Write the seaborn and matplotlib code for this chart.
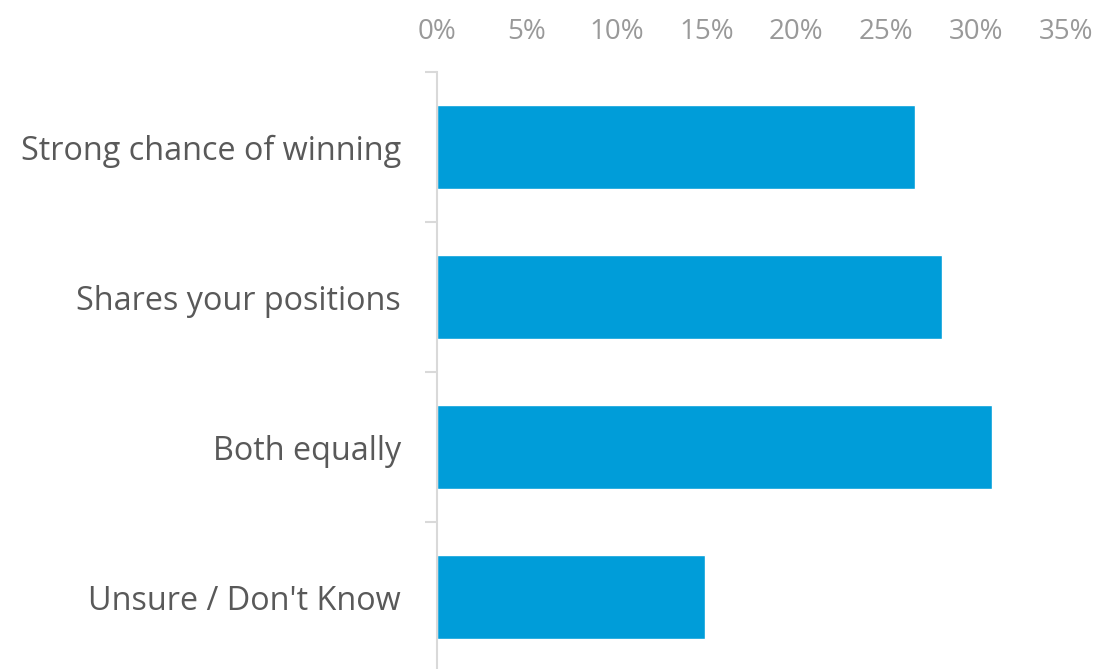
import matplotlib
matplotlib.use("Agg")
import matplotlib.pyplot as plt
import seaborn as sns
import pandas as pd
from matplotlib.ticker import FuncFormatter

categories = ["Strong chance of winning", "Shares your positions", "Both equally", "Unsure / Don't Know"]
values = [26.6, 28.1, 30.9, 14.9]
tick_vals = [0, 5, 10, 15, 20, 25, 30, 35]

df = pd.DataFrame({"answer": categories, "pct": values})

sns.set_style("white")
plt.rcParams['font.family'] = ['Open Sans', 'DejaVu Sans']

fig = plt.figure(figsize=(10.99, 6.69), dpi=100)
ax = fig.add_axes([437 / 1099, -3 / 669, (1066 - 437) / 1099, 600 / 669])

sns.barplot(data=df, x="pct", y="answer", color="#009DD9", saturation=1,
            width=0.56, ax=ax)

ax.set_xlim(0, 35)
ax.set_xticks(tick_vals)
ax.xaxis.set_major_formatter(FuncFormatter(lambda v, p: '%d%%' % v))
ax.xaxis.tick_top()
ax.tick_params(axis='x', length=0, labelsize=20, labelcolor='#999999', pad=19)

# category labels on minor ticks, separator ticks on major
ax.set_yticks([-0.5, 0.5, 1.5, 2.5], minor=False)
ax.set_yticklabels([])
ax.set_yticks(range(len(categories)), minor=True)
ax.set_yticklabels(categories, minor=True)
ax.tick_params(axis='y', which='minor', left=True, length=0, labelsize=23.3,
               labelcolor='#595959', pad=26)
ax.tick_params(axis='y', which='major', left=True, length=9, width=1.5, color='#d9d9d9')
ax.set_ylim(3.5, -0.5)
ax.set_xlabel('')
ax.set_ylabel('')

for s in ['top', 'right', 'bottom']:
    ax.spines[s].set_visible(False)
ax.spines['left'].set_color('#d9d9d9')
ax.spines['left'].set_linewidth(1.5)

fig.savefig("out.png", dpi=100)
